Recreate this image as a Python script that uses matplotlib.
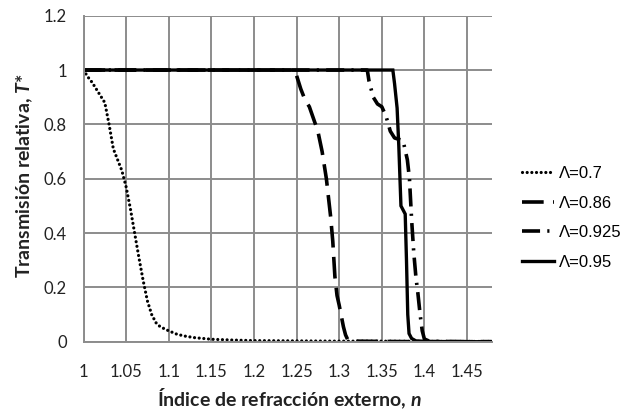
import matplotlib
matplotlib.use("Agg")
import matplotlib.pyplot as plt

plt.rcParams["mathtext.fontset"] = "custom"
plt.rcParams["mathtext.bfit"] = "Lato:bold:italic"
plt.rcParams["mathtext.rm"] = "Lato"
plt.rcParams["mathtext.bf"] = "Lato:bold"
plt.rcParams["mathtext.it"] = "Lato:italic"

# ---- data ----
n07 = [1.0, 1.005, 1.01, 1.015, 1.02, 1.025, 1.03, 1.035, 1.04, 1.045, 1.05, 1.055,
       1.06, 1.065, 1.07, 1.075, 1.08, 1.085, 1.09, 1.10, 1.11, 1.12, 1.13, 1.15,
       1.175, 1.2, 1.25, 1.3, 1.35, 1.4, 1.45, 1.479]
T07 = [1.0, 0.975, 0.955, 0.93, 0.905, 0.88, 0.80, 0.71, 0.67, 0.63, 0.57, 0.49,
       0.40, 0.31, 0.225, 0.15, 0.10, 0.07, 0.055, 0.04, 0.027, 0.02, 0.015, 0.009,
       0.006, 0.004, 0.003, 0.002, 0.002, 0.001, 0.001, 0.001]

n086 = [1.0, 1.248, 1.25, 1.255, 1.26, 1.265, 1.27, 1.275, 1.28, 1.285, 1.29, 1.2925,
        1.295, 1.2975, 1.30, 1.3025, 1.305, 1.3075, 1.31, 1.315, 1.32, 1.35, 1.40,
        1.45, 1.479]
T086 = [1.0, 1.0, 0.98, 0.93, 0.89, 0.865, 0.82, 0.775, 0.70, 0.60, 0.46, 0.37,
        0.24, 0.17, 0.135, 0.095, 0.055, 0.025, 0.008, 0.003, 0.002, 0.001, 0.0,
        0.0, 0.0]

n0925 = [1.0, 1.333, 1.335, 1.34, 1.345, 1.35, 1.355, 1.36, 1.365, 1.37, 1.375, 1.38,
         1.3825, 1.385, 1.3875, 1.39, 1.3925, 1.395, 1.3975, 1.40, 1.405, 1.41, 1.45,
         1.479]
T0925 = [1.0, 1.0, 0.96, 0.90, 0.875, 0.865, 0.83, 0.775, 0.75, 0.745, 0.74, 0.67,
         0.60, 0.45, 0.33, 0.24, 0.175, 0.10, 0.04, 0.01, 0.003, 0.001, 0.0, 0.0]

n095 = [1.0, 1.363, 1.365, 1.368, 1.37, 1.3725, 1.375, 1.3775, 1.379, 1.3805, 1.382,
        1.385, 1.39, 1.40, 1.45, 1.479]
T095 = [1.0, 1.0, 0.95, 0.86, 0.72, 0.50, 0.485, 0.47, 0.30, 0.10, 0.03, 0.012,
        0.003, 0.001, 0.0, 0.0]

labels = ["\u039b=0.7", "\u039b=0.86", "\u039b=0.925", "\u039b=0.95"]
xticks = [1, 1.05, 1.1, 1.15, 1.2, 1.25, 1.3, 1.35, 1.4, 1.45]
xticklabels = ["1", "1.05", "1.1", "1.15", "1.2", "1.25", "1.3", "1.35", "1.4", "1.45"]
yticks = [0, 0.2, 0.4, 0.6, 0.8, 1.0, 1.2]
yticklabels = ["0", "0.2", "0.4", "0.6", "0.8", "1", "1.2"]

W, H = 641, 411
fig = plt.figure(figsize=(W / 100, H / 100), dpi=100)
ax = fig.add_axes([83.5 / W, 1 - 341.7 / H, (491.7 - 83.5) / W, (341.7 - 15.7) / H])

grid_c = "#8c8c8c"
ax.set_xlim(1.0, 1.479)
ax.set_ylim(0, 1.2)
ax.set_xticks(xticks)
ax.set_xticklabels(xticklabels)
ax.set_yticks(yticks)
ax.set_yticklabels(yticklabels)
ax.grid(True, color=grid_c, linewidth=1.4)
ax.set_axisbelow(True)
for s in ["top", "right"]:
    ax.spines[s].set_visible(False)
for s in ["left", "bottom"]:
    ax.spines[s].set_color(grid_c)
    ax.spines[s].set_linewidth(1.4)
ax.tick_params(length=0)
ax.tick_params(axis="x", pad=16)
ax.tick_params(axis="y", pad=12)
for t in ax.get_xticklabels() + ax.get_yticklabels():
    t.set_fontfamily("Lato")
    t.set_fontsize(12)
    t.set_color("#222222")

k = "black"
l1, = ax.plot(n07, T07, color=k, lw=2.3, dashes=(0.01, 1.45), dash_capstyle="round",
              label=labels[0])
l2, = ax.plot(n086, T086, color=k, lw=2.6, dashes=(6, 2.6), label=labels[1])
l3, = ax.plot(n0925, T0925, color=k, lw=2.6, dashes=(5, 2, 0.6, 2), label=labels[2])
l4, = ax.plot(n095, T095, color=k, lw=2.4, solid_joinstyle="miter", label=labels[3])

leg = fig.legend(handles=[l1, l2, l3, l4], loc="upper left",
                 bbox_to_anchor=(522 / W, 1 - 166 / H), frameon=False,
                 prop={"family": "Liberation Sans", "size": 12},
                 handlelength=1.9, handletextpad=0.3, labelspacing=0.88,
                 borderpad=0, borderaxespad=0)

fig.text(25 / W, 1 - 176 / H, "Transmisión relativa, $\\mathbfit{T}$*",
         rotation=90, ha="center", va="center", fontfamily="Lato",
         fontweight="bold", fontsize=14, color="#222222")
fig.text(289 / W, 1 - 399 / H, "Índice de refracción externo, $\\mathbfit{n}$",
         ha="center", va="center", fontfamily="Lato",
         fontweight="bold", fontsize=14, color="#222222")

fig.savefig("out.png", dpi=100)
